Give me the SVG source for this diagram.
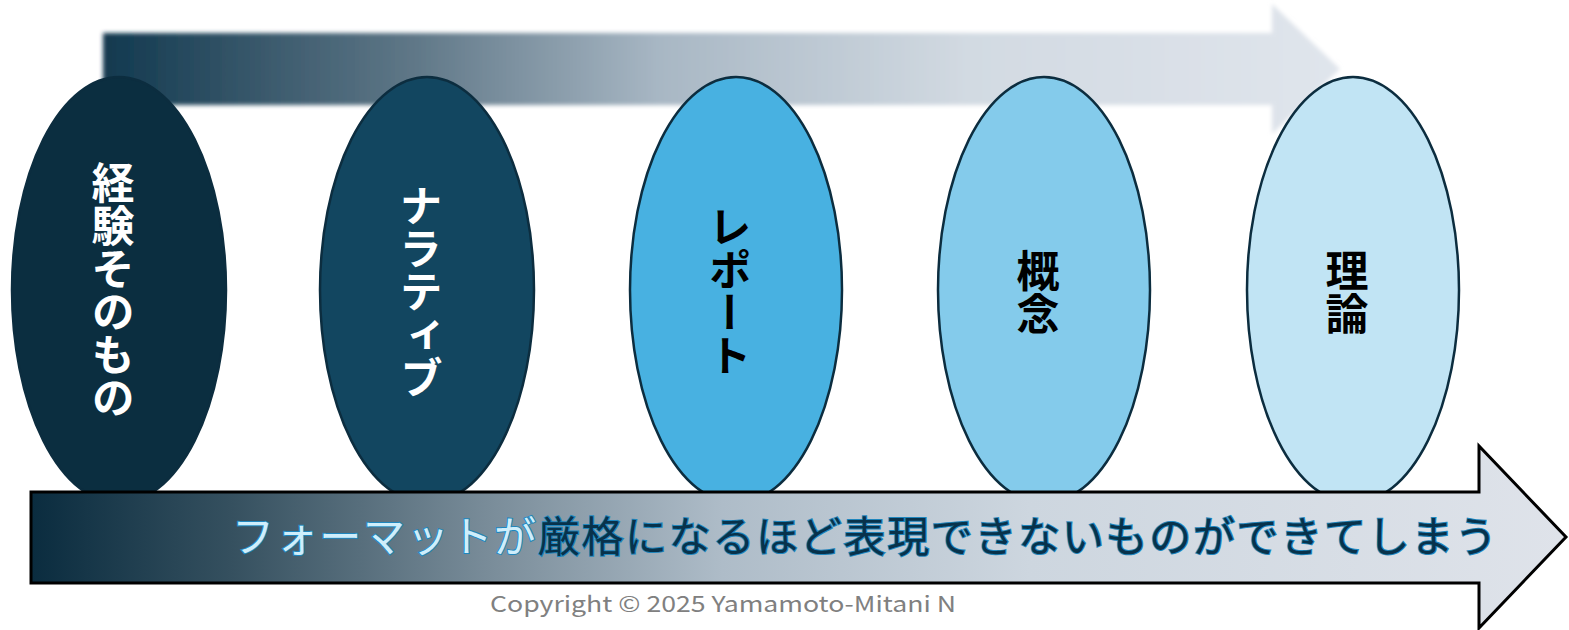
<svg xmlns="http://www.w3.org/2000/svg" width="1569" height="630" viewBox="0 0 1569 630">
<defs>
<style>
.node{stroke:#0c2d3f;stroke-width:2.5}
.vt{font-family:"Noto Sans CJK JP","Noto Sans CJK SC",sans-serif;font-size:43px;font-weight:bold;writing-mode:vertical-rl;text-anchor:middle;dominant-baseline:central}
.main{font-family:"Noto Sans CJK JP","Noto Sans CJK SC",sans-serif;font-size:42px;stroke:#1f86bd;stroke-width:2;paint-order:stroke}
.copy{font-family:"Noto Sans CJK JP","Noto Sans",sans-serif;font-size:22px;fill:#808080}
</style>
<linearGradient id="gTop" x1="103" y1="0" x2="1340" y2="0" gradientUnits="userSpaceOnUse">
<stop offset="0" stop-color="#12394f"/>
<stop offset="0.25" stop-color="#5f7787"/>
<stop offset="0.45" stop-color="#a8b7c4"/>
<stop offset="0.7" stop-color="#d2dae2"/>
<stop offset="1" stop-color="#e0e5ec"/>
</linearGradient>
<linearGradient id="gBot" x1="31" y1="0" x2="1567" y2="0" gradientUnits="userSpaceOnUse">
<stop offset="0" stop-color="#0a2c3f"/>
<stop offset="0.13" stop-color="#35505f"/>
<stop offset="0.3" stop-color="#7a8d9a"/>
<stop offset="0.45" stop-color="#aebcc8"/>
<stop offset="0.65" stop-color="#cdd6df"/>
<stop offset="1" stop-color="#dfe3ea"/>
</linearGradient>
<filter id="blur" x="-5%" y="-20%" width="110%" height="140%">
<feGaussianBlur stdDeviation="2"/>
</filter>
</defs>
<rect width="1569" height="630" fill="#ffffff"/>
<g id="connectors">
<polygon id="topArrow" points="103,33 1272,33 1272,4 1340,69 1272,134 1272,105 103,105" fill="url(#gTop)" filter="url(#blur)"/>
</g>
<g id="n1"><ellipse class="node" cx="119" cy="290" rx="107" ry="213" fill="#0b2e40"/><text class="vt" x="113" y="290" fill="#ffffff">経験そのもの</text></g>
<g id="n2"><ellipse class="node" cx="427" cy="290" rx="107" ry="213" fill="#124660"/><text class="vt" x="421" y="292" fill="#ffffff">ナラティブ</text></g>
<g id="n3"><ellipse class="node" cx="736" cy="290" rx="106" ry="213" fill="#48b1e1"/><text class="vt" x="730" y="291" fill="#000000">レポート</text></g>
<g id="n4"><ellipse class="node" cx="1044" cy="290" rx="106" ry="213" fill="#84cbeb"/><text class="vt" x="1038" y="292" fill="#000000">概念</text></g>
<g id="n5"><ellipse class="node" cx="1353" cy="290" rx="106" ry="213" fill="#c1e4f4"/><text class="vt" x="1347" y="292" fill="#000000">理論</text></g>
<g id="bottom">
<polygon points="31,492 1479,492 1479,446 1566,537 1479,628 1479,583 31,583" fill="url(#gBot)" stroke="#000000" stroke-width="3" stroke-linejoin="miter"/>
<text class="main" x="232" y="552" textLength="1265" lengthAdjust="spacing"><tspan fill="#cfeefb">フォーマットが</tspan><tspan fill="#08324b">厳格になるほど表現できないものができてしまう</tspan></text>
</g>
<text class="copy" x="490" y="612" textLength="466" lengthAdjust="spacingAndGlyphs">Copyright © 2025 Yamamoto-Mitani N</text>
</svg>
